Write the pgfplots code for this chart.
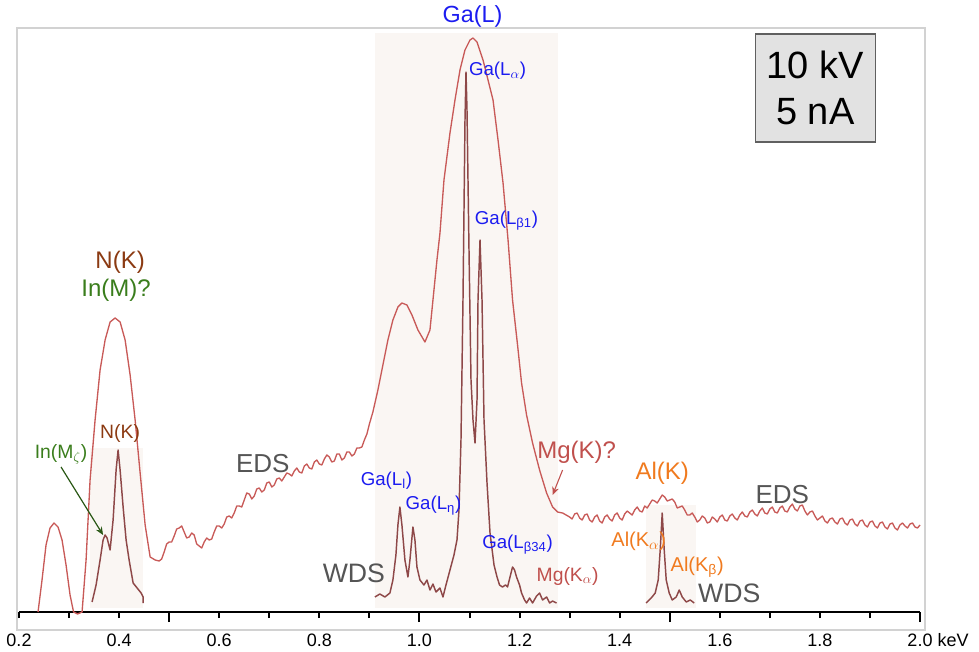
\documentclass[border=0pt]{standalone}
\usepackage{fontspec}
\setmainfont{Liberation Sans}
\usepackage{pgfplots}
\pgfplotsset{compat=1.18}
\usetikzlibrary{arrows.meta}

\definecolor{edsRed}{HTML}{C85A58}
\definecolor{wdsRed}{HTML}{8E4848}
\definecolor{gaBlue}{HTML}{1C1CF0}
\definecolor{alOrange}{HTML}{F07A1E}
\definecolor{mgRed}{HTML}{C0504D}
\definecolor{nBrown}{HTML}{8B3A12}
\definecolor{inGreen}{HTML}{3A7D1C}
\definecolor{txtGray}{HTML}{555555}
\definecolor{shadeBg}{HTML}{FAF6F3}
\definecolor{frameGray}{HTML}{D2D2D2}
\definecolor{boxGray}{HTML}{E2E2E2}

\newcommand{\fs}[1]{\fontsize{#1}{#1}\selectfont}

\tikzset{
  eds/.style = {edsRed, line width=1pt, line join=round, mark=none},
  wds/.style = {wdsRed, line width=1.1pt, line join=round, mark=none},
  lbl/.style = {inner sep=0pt},
}

\begin{document}
\begin{tikzpicture}
\useasboundingbox (0,0) rectangle (734.25pt,488.25pt);
\begin{axis}[
  at={(14.25pt,15.75pt)}, anchor=south west,
  scale only axis, width=675.75pt, height=451.5pt,
  xmin=0.2, xmax=2.0, ymin=-18, ymax=584,
  clip=false,
  axis x line=middle, axis y line=none,
  x axis line style={-, black, line width=2.2pt},
  xtick={0.2,0.4,0.6,0.8,1.0,1.2,1.4,1.6,1.8,2.0},
  xticklabels={0.2,0.4,0.6,0.8,1.0,1.2,1.4,1.6,1.8,{2.0\rlap{\ keV}}},
  minor xtick={0.3,0.5,0.7,0.9,1.1,1.3,1.5,1.7,1.9},
  extra x ticks={0.5,1.0,1.5,2.0},
  extra x tick labels={,,,},
  extra x tick style={major tick length=7.5pt},
  xtick align=outside,
  major tick length=4.5pt, minor tick length=4.5pt,
  every tick/.style={black, line width=1.5pt},
  xticklabel style={font=\fs{13.5pt}, anchor=base, yshift=-21pt},
  ytick=\empty,
]
% frame and shaded WDS windows
\draw[frameGray, line width=0.8pt] ([xshift=-1.5pt]rel axis cs:0,0) rectangle ([xshift=3.75pt]rel axis cs:1,1);
\fill[shadeBg] (axis cs:0.342,4) rectangle (axis cs:0.447,164);
\fill[shadeBg] (axis cs:0.911,4) rectangle (axis cs:1.276,579);
\fill[shadeBg] (axis cs:1.453,4) rectangle (axis cs:1.553,107);

% EDS spectrum
\addplot[eds] coordinates {
(0.238,0)(0.246,32)(0.254,67)(0.262,84)(0.270,89)(0.278,85)(0.286,72)(0.294,47)
(0.302,17)(0.309,0)(0.317,-2)(0.326,0)(0.334,52)(0.342,132)(0.352,192)(0.362,242)
(0.372,272)(0.382,290)(0.392,294)(0.402,290)(0.412,272)(0.422,237)(0.432,192)
(0.442,139)(0.452,87)(0.462,55)(0.472,52)(0.480,51)(0.485,53)(0.49,60)(0.495,68)
(0.50,70)(0.505,70)(0.51,76)(0.515,83)(0.52,84)(0.525,86)(0.53,80)(0.535,74)
(0.54,75)(0.545,79)(0.55,77)(0.555,68)(0.56,66)(0.565,64)(0.57,70)(0.575,74)
(0.58,72)(0.585,73)(0.59,80)(0.595,86)(0.60,86)(0.605,84)(0.61,88)(0.615,95)
(0.62,96)(0.625,94)(0.63,99)(0.635,106)(0.64,106)(0.645,105)(0.65,112)(0.655,119)
(0.66,118)(0.665,113)(0.67,116)(0.675,123)(0.68,124)(0.685,120)(0.69,122)
(0.695,129)(0.70,130)(0.705,125)(0.71,127)(0.715,133)(0.72,134)(0.725,131)
(0.73,135)(0.735,139)(0.74,138)(0.745,136)(0.75,141)(0.755,144)(0.76,140)
(0.765,139)(0.77,146)(0.775,148)(0.78,144)(0.785,143)(0.79,150)(0.795,152)
(0.80,148)(0.805,147)(0.81,153)(0.815,157)(0.82,155)(0.825,150)(0.83,151)
(0.835,158)(0.84,158)(0.845,152)(0.85,154)(0.855,160)(0.86,160)(0.865,156)
(0.87,158)(0.875,164)(0.88,164)(0.885,165)(0.89,172)(0.895,178)(0.90,188)
(0.907,200)(0.917,222)(0.927,247)(0.937,272)(0.947,292)(0.957,305)(0.965,309)
(0.975,307)(0.985,297)(0.997,282)(1.011,270)(1.021,282)(1.027,312)(1.035,352)
(1.041,379)(1.049,432)(1.061,479)(1.071,512)(1.081,542)(1.091,562)(1.101,572)
(1.107,574)(1.115,570)(1.127,552)(1.137,532)(1.147,512)(1.157,472)(1.167,429)
(1.177,372)(1.186,312)(1.196,267)(1.204,229)(1.214,197)(1.226,169)(1.240,142)
(1.254,119)(1.266,105)(1.276,100)(1.286,99)(1.30,95)(1.305,93)(1.31,98)
(1.315,99)(1.32,94)(1.325,92)(1.33,97)(1.335,98)(1.34,92)(1.345,90)(1.35,95)
(1.355,97)(1.36,91)(1.365,89)(1.37,95)(1.375,97)(1.38,93)(1.385,91)(1.39,97)
(1.395,99)(1.40,94)(1.405,92)(1.41,98)(1.415,101)(1.42,99)(1.425,97)(1.43,102)
(1.435,105)(1.44,101)(1.445,100)(1.45,106)(1.455,104)(1.46,108)(1.465,112)
(1.47,111)(1.475,109)(1.48,113)(1.485,117)(1.49,115)(1.495,111)(1.50,112)
(1.505,113)(1.51,110)(1.515,104)(1.52,105)(1.525,106)(1.53,102)(1.535,97)
(1.54,97)(1.545,99)(1.55,95)(1.555,90)(1.56,92)(1.565,96)(1.57,94)(1.575,89)
(1.58,90)(1.585,95)(1.59,93)(1.595,90)(1.60,95)(1.605,97)(1.61,92)(1.615,91)
(1.62,96)(1.625,98)(1.63,94)(1.635,92)(1.64,97)(1.645,100)(1.65,96)(1.655,95)
(1.66,100)(1.665,102)(1.67,98)(1.675,96)(1.68,101)(1.685,104)(1.69,99)(1.695,98)
(1.70,103)(1.705,105)(1.71,100)(1.715,99)(1.72,104)(1.725,106)(1.73,101)
(1.735,100)(1.74,105)(1.745,108)(1.75,103)(1.755,101)(1.76,106)(1.765,107)
(1.77,101)(1.775,97)(1.78,100)(1.785,101)(1.79,96)(1.795,92)(1.80,94)(1.805,96)
(1.81,91)(1.815,89)(1.82,93)(1.825,94)(1.83,90)(1.835,88)(1.84,93)(1.845,94)
(1.85,89)(1.855,87)(1.86,92)(1.865,93)(1.87,88)(1.875,86)(1.88,91)(1.885,92)
(1.89,87)(1.895,85)(1.90,90)(1.905,91)(1.91,86)(1.915,84)(1.92,89)(1.925,90)
(1.93,85)(1.935,83)(1.94,88)(1.945,89)(1.95,84)(1.955,82)(1.96,87)(1.965,89)
(1.97,86)(1.975,84)(1.98,88)(1.985,89)(1.99,85)(1.995,84)(2.00,87)
};

% WDS spectra
\addplot[wds] coordinates {
(0.346,10)(0.354,27)(0.362,52)(0.368,72)(0.372,77)(0.376,74)(0.382,62)(0.388,92)
(0.394,142)(0.398,162)(0.402,142)(0.408,105)(0.414,72)(0.420,52)(0.428,29)
(0.436,24)(0.444,19)(0.448,15)(0.448,9)
};
\addplot[wds] coordinates {
(0.911,15)(0.921,18)(0.931,15)(0.941,19)(0.947,32)(0.953,57)(0.957,87)(0.961,105)
(0.965,87)(0.971,52)(0.977,35)(0.981,52)(0.987,85)(0.991,72)(0.995,45)(1.001,32)
(1.009,27)(1.015,32)(1.021,22)(1.027,28)(1.033,20)(1.041,24)(1.047,15)(1.053,27)
(1.061,42)(1.069,57)(1.075,72)(1.079,102)(1.083,172)(1.087,312)(1.091,492)
(1.093,540)(1.095,502)(1.099,362)(1.103,232)(1.107,192)(1.111,169)(1.115,212)
(1.117,312)(1.121,372)(1.125,312)(1.129,192)(1.135,129)(1.141,79)(1.149,47)
(1.155,35)(1.160,27)(1.166,25)(1.172,27)(1.176,25)(1.182,37)(1.186,45)(1.190,42)
(1.194,35)(1.200,27)(1.204,19)(1.210,12)(1.214,9)(1.220,14)(1.226,9)(1.234,16)
(1.240,19)(1.246,12)(1.254,15)(1.260,9)(1.266,11)(1.274,9)
};
\addplot[wds] coordinates {
(1.453,9)(1.463,14)(1.471,19)(1.477,32)(1.481,62)(1.485,99)(1.489,62)(1.493,32)
(1.499,19)(1.505,12)(1.513,15)(1.519,22)(1.525,15)(1.533,10)(1.541,12)(1.549,9)
};

% labels
\node[lbl, gaBlue, font=\fs{17.5pt}] at (axis cs:1.106,596) {Ga(L)};
\node[lbl, gaBlue, font=\fs{14pt}] at (axis cs:1.156,541) {Ga(L$_\alpha$)};
\node[lbl, gaBlue, font=\fs{14pt}] at (axis cs:1.174,391) {Ga(L\textsubscript{β1})};
\node[lbl, gaBlue, font=\fs{14pt}] at (axis cs:0.934,131) {Ga(L\textsubscript{l})};
\node[lbl, gaBlue, font=\fs{14pt}] at (axis cs:1.028,106) {Ga(L\textsubscript{η})};
\node[lbl, gaBlue, font=\fs{14pt}] at (axis cs:1.196,67) {Ga(L\textsubscript{β34})};
\node[lbl, mgRed, font=\fs{14.5pt}] at (axis cs:1.296,36) {Mg(K$_\alpha$)};
\node[lbl, mgRed, font=\fs{18pt}] at (axis cs:1.314,160) {Mg(K)?};
\draw[-{Stealth[length=6pt,width=5pt]}, mgRed, line width=0.8pt] (axis cs:1.286,142) -- (axis cs:1.266,117);
\node[lbl, alOrange, font=\fs{18pt}] at (axis cs:1.485,139) {Al(K)};
\node[lbl, alOrange, font=\fs{15pt}] at (axis cs:1.438,71) {Al(K$_\alpha$)};
\node[lbl, alOrange, font=\fs{15pt}] at (axis cs:1.555,45) {Al(K\textsubscript{β})};
\node[lbl, txtGray, font=\fs{20pt}] at (axis cs:1.619,19) {WDS};
\node[lbl, txtGray, font=\fs{20pt}] at (axis cs:0.869,39) {WDS};
\node[lbl, txtGray, font=\fs{19.5pt}] at (axis cs:1.725,117) {EDS};
\node[lbl, txtGray, font=\fs{19.5pt}] at (axis cs:0.687,148) {EDS};
\node[lbl, nBrown, font=\fs{18pt}] at (axis cs:0.402,350) {N(K)};
\node[lbl, inGreen, font=\fs{18pt}] at (axis cs:0.394,322) {In(M)?};
\node[lbl, nBrown, font=\fs{14.5pt}] at (axis cs:0.402,179) {N(K)};
\node[lbl, inGreen, font=\fs{14.5pt}] at (axis cs:0.284,158) {In(M$_\zeta$)};
\draw[-{Stealth[length=6pt,width=5pt]}, inGreen!70!black, line width=0.9pt] (axis cs:0.284,145) -- (axis cs:0.368,77);

% beam conditions
\node[draw=gray!75!black, fill=boxGray, line width=1.2pt, minimum width=90pt,
      minimum height=81pt, align=center, inner sep=0pt,
      font=\fontsize{28.5pt}{35pt}\selectfont] at (axis cs:1.791,524) {10 kV\\5 nA};
\end{axis}
\end{tikzpicture}
\end{document}
